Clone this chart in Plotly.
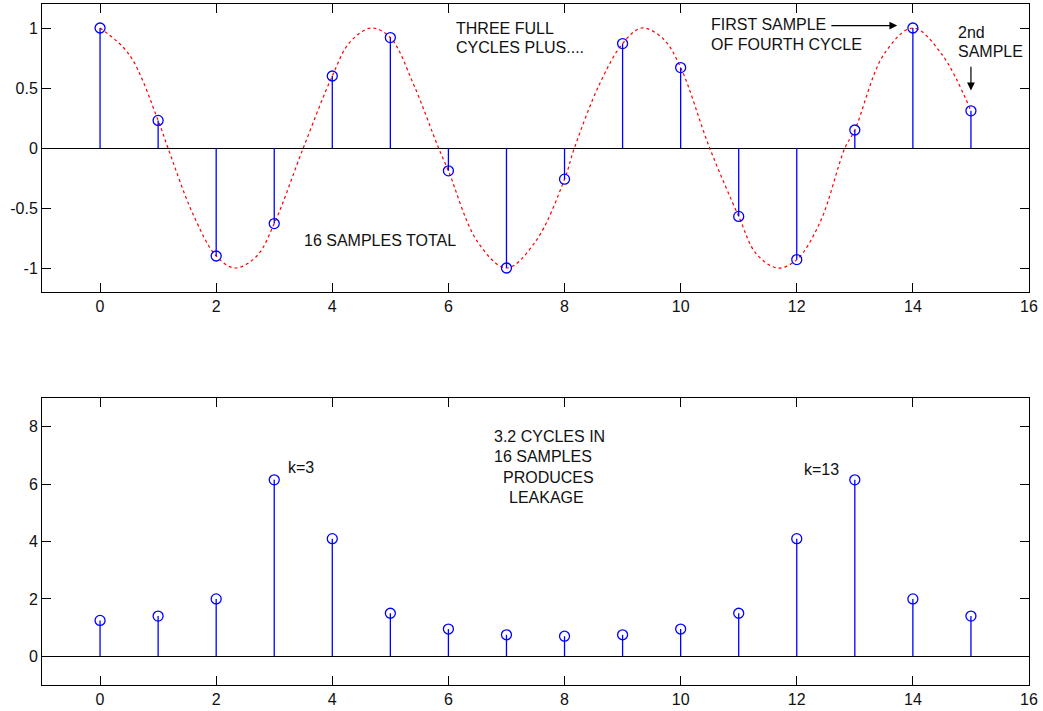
import plotly.graph_objects as go

# ---- data ----
n = list(range(16))
top_vals = [1.0, 0.23, -0.9, -0.63, 0.6, 0.92, -0.19, -1.0, -0.26, 0.87, 0.67, -0.57, -0.93, 0.15, 1.0, 0.31]
bottom_vals = [1.25, 1.4, 2.0, 6.15, 4.1, 1.5, 0.95, 0.75, 0.7, 0.75, 0.95, 1.5, 4.1, 6.15, 2.0, 1.4]

# continuous (dashed red) curve: points
curve_x = [0, 0.5, 1, 1.17, 1.6, 2, 2.33, 2.7, 3, 3.5, 4, 4.3, 4.67, 5, 5.4, 5.83, 6, 6.5, 7, 7.5, 8, 8.17,
           8.6, 9, 9.33, 9.7, 10, 10.5, 11, 11.3, 11.67, 12, 12.4, 12.83, 13, 13.5, 14, 14.5, 15]
curve_y = [1.0, 0.78, 0.23, 0.0, -0.55, -0.9, -1.0, -0.9, -0.63, 0.0, 0.6, 0.88, 1.0, 0.92, 0.53, 0.0, -0.19, -0.78, -1.0, -0.78, -0.26, 0.0,
           0.53, 0.87, 1.0, 0.91, 0.67, 0.0, -0.57, -0.88, -1.0, -0.93, -0.62, 0.0, 0.15, 0.78, 1.0, 0.78, 0.31]

x_ticks = [0, 2, 4, 6, 8, 10, 12, 14, 16]
top_yticks = [-1, -0.5, 0, 0.5, 1]
top_yticklabels = ["-1", "-0.5", "0", "0.5", "1"]
bottom_yticks = [0, 2, 4, 6, 8]

W, H = 1043, 711
FONT = "Liberation Sans, Arial, Helvetica, sans-serif"
BLUE = "#0000ff"
RED = "#ff0000"


def stems(xs, ys):
    sx, sy = [], []
    for a, b in zip(xs, ys):
        sx += [a, a, None]
        sy += [0, b, None]
    return sx, sy


fig = go.Figure()

# top: red dashed curve
fig.add_trace(go.Scatter(x=curve_x, y=curve_y, mode="lines",
                         line=dict(color=RED, width=1.2, dash="3px,3px", shape="spline", smoothing=1.0),
                         xaxis="x", yaxis="y", hoverinfo="skip"))
sx, sy = stems(n, top_vals)
fig.add_trace(go.Scatter(x=sx, y=sy, mode="lines", line=dict(color=BLUE, width=1.3),
                         xaxis="x", yaxis="y"))
fig.add_trace(go.Scatter(x=n, y=top_vals, mode="markers",
                         marker=dict(symbol="circle-open", size=10, color=BLUE, line=dict(width=1.3, color=BLUE)),
                         xaxis="x", yaxis="y"))

# bottom
sx, sy = stems(n, bottom_vals)
fig.add_trace(go.Scatter(x=sx, y=sy, mode="lines", line=dict(color=BLUE, width=1.3),
                         xaxis="x2", yaxis="y2"))
fig.add_trace(go.Scatter(x=n, y=bottom_vals, mode="markers",
                         marker=dict(symbol="circle-open", size=10, color=BLUE, line=dict(width=1.3, color=BLUE)),
                         xaxis="x2", yaxis="y2"))

axis_common = dict(showline=True, linecolor="black", linewidth=1, mirror="ticks",
                   ticks="inside", ticklen=9, tickcolor="black", tickwidth=1,
                   showgrid=False, zeroline=False, automargin=False,
                   tickfont=dict(family=FONT, size=16, color="#111111"))

xd = [42 / W, 1029 / W]
fig.update_layout(
    width=W, height=H, autosize=False,
    margin=dict(l=0, r=0, t=0, b=0),
    paper_bgcolor="white", plot_bgcolor="white",
    showlegend=False,
    xaxis=dict(domain=xd, range=[-1, 16], tickvals=x_ticks, anchor="y", **axis_common),
    yaxis=dict(domain=[1 - 292 / H, 1 - 4 / H], range=[-1.2, 1.2], tickvals=top_yticks,
               ticktext=top_yticklabels, anchor="x", **axis_common),
    xaxis2=dict(domain=xd, range=[-1, 16], tickvals=x_ticks, anchor="y2", **axis_common),
    yaxis2=dict(domain=[1 - 685 / H, 1 - 398 / H], range=[-1, 9], tickvals=bottom_yticks,
                anchor="x2", **axis_common),
)
fig.update_yaxes(zeroline=True, zerolinecolor="black", zerolinewidth=1)


def label(text, px, py):
    fig.add_annotation(text=text, x=px / W, y=1 - py / H, xref="paper", yref="paper",
                       xanchor="left", yanchor="middle", showarrow=False,
                       font=dict(family=FONT, size=16, color="#111111"))


label("THREE FULL", 454, 28)
label("CYCLES PLUS....", 454, 47)
label("16 SAMPLES TOTAL", 302, 240)
label("FIRST SAMPLE", 709, 25)
label("OF FOURTH CYCLE", 709, 44)
label("2nd", 956, 33)
label("SAMPLE", 956, 52)
label("3.2 CYCLES IN", 492, 436)
label("16 SAMPLES", 492, 456)
label("PRODUCES", 501, 477)
label("LEAKAGE", 507, 497)
label("k=3", 286, 468)
label("k=13", 802, 470)

# arrows
fig.add_annotation(x=13.73, y=1.02, ax=12.57, ay=1.02, xref="x", yref="y", axref="x", ayref="y",
                   text="", showarrow=True, arrowhead=2, arrowsize=1.3, arrowwidth=1.2, arrowcolor="black")
fig.add_annotation(x=15.0, y=0.48, ax=15.0, ay=0.69, xref="x", yref="y", axref="x", ayref="y",
                   text="", showarrow=True, arrowhead=2, arrowsize=1.3, arrowwidth=1.2, arrowcolor="black")

fig.write_html("out.html")
